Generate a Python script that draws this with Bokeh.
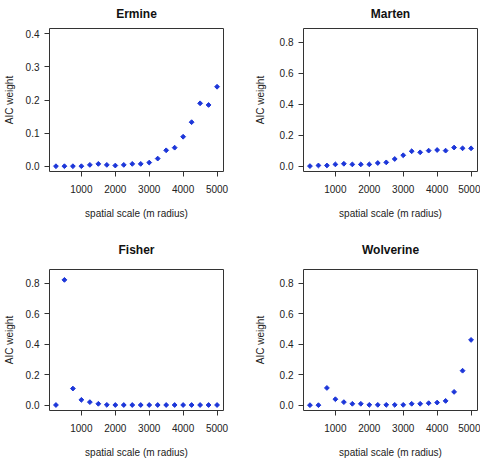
import math
from bokeh.plotting import figure
from bokeh.layouts import gridplot
from bokeh.models import FixedTicker, Range1d, PrintfTickFormatter
from bokeh.embed import file_html
from bokeh.resources import INLINE

scale_m = [250, 500, 750, 1000, 1250, 1500, 1750, 2000, 2250, 2500,
           2750, 3000, 3250, 3500, 3750, 4000, 4250, 4500, 4750, 5000]

ermine = [0.0, 0.0, 0.0, 0.0, 0.004, 0.007, 0.004, 0.002, 0.004, 0.007,
          0.007, 0.011, 0.023, 0.048, 0.056, 0.089, 0.133, 0.190, 0.185, 0.240]
marten = [0.0, 0.004, 0.004, 0.011, 0.015, 0.011, 0.011, 0.011, 0.020, 0.024,
          0.046, 0.070, 0.096, 0.089, 0.100, 0.104, 0.100, 0.120, 0.115, 0.115]
fisher = [0.001, 0.822, 0.109, 0.035, 0.020, 0.009, 0.002, 0.001, 0.001, 0.001,
          0.001, 0.001, 0.001, 0.001, 0.001, 0.001, 0.001, 0.001, 0.001, 0.001]
wolverine = [0.0, 0.0, 0.113, 0.039, 0.020, 0.009, 0.009, 0.002, 0.002, 0.002,
             0.002, 0.002, 0.009, 0.009, 0.013, 0.017, 0.028, 0.087, 0.226, 0.428]

x_ticks = [1000, 2000, 3000, 4000, 5000]
y_ticks_small = [0.0, 0.1, 0.2, 0.3, 0.4]
y_ticks_large = [0.0, 0.2, 0.4, 0.6, 0.8]

FONT = "Liberation Sans"
PT_COLOR = "#1c36d9"
BOX = "#333333"


def panel(title, values, yticks, yrange, width, height, mbl, mbr, mbt, mbb,
          ylab_standoff, title_standoff):
    p = figure(width=width, height=height, output_backend="svg", toolbar_location=None,
               x_range=Range1d(60, 5190), y_range=Range1d(*yrange),
               min_border_left=mbl, min_border_right=mbr,
               min_border_top=mbt, min_border_bottom=mbb,
               title=title)
    p.title.text_font = FONT
    p.title.text_font_size = "12px"
    p.title.text_font_style = "bold"
    p.title.align = "center"
    p.title.vertical_align = "top"
    p.title.text_color = "#111111"
    p.title.standoff = title_standoff
    p.outline_line_color = BOX
    p.outline_line_width = 1
    p.xgrid.visible = False
    p.ygrid.visible = False
    p.background_fill_color = "white"
    p.border_fill_color = "white"

    p.xaxis.ticker = FixedTicker(ticks=x_ticks)
    p.xaxis.formatter = PrintfTickFormatter(format="%d")
    p.yaxis.ticker = FixedTicker(ticks=yticks)
    p.yaxis.formatter = PrintfTickFormatter(format="%.1f")
    for ax in (p.xaxis, p.yaxis):
        ax.axis_line_color = None
        ax.major_tick_line_color = BOX
        ax.major_tick_out = 5
        ax.major_tick_in = 0
        ax.minor_tick_line_color = None
        ax.major_label_text_font = FONT
        ax.major_label_text_font_size = "10px"
        ax.major_label_text_color = "#222222"
        ax.axis_label_text_font = FONT
        ax.axis_label_text_font_size = "10px"
        ax.axis_label_text_font_style = "normal"
        ax.axis_label_text_color = "#222222"
    p.xaxis.axis_label = "spatial scale (m radius)"
    p.yaxis.axis_label = "AIC weight"
    p.xaxis.major_label_standoff = 8
    p.xaxis.axis_label_standoff = 12
    p.yaxis.major_label_standoff = 5
    p.yaxis.axis_label_standoff = ylab_standoff
    p.yaxis.major_label_orientation = "horizontal"

    p.scatter(scale_m, values, marker="square", size=3.4, angle=math.pi / 4,
              fill_color=PT_COLOR, line_color=PT_COLOR)
    return p


small = (-0.016, 0.416)
large = (-0.035, 0.89)

p1 = panel("Ermine", ermine, y_ticks_small, small, 251, 230, 45, 28, 28, 59, 8, 12)
p2 = panel("Marten", marten, y_ticks_large, large, 229, 230, 47, 3, 28, 59, 11, 12)
p3 = panel("Fisher", fisher, y_ticks_large, large, 251, 230, 45, 28, 39, 48, 8, 22)
p4 = panel("Wolverine", wolverine, y_ticks_large, large, 229, 230, 47, 3, 39, 48, 11, 22)

grid = gridplot([[p1, p2], [p3, p4]], toolbar_location=None)

open("out.html", "w").write(file_html(grid, INLINE))
